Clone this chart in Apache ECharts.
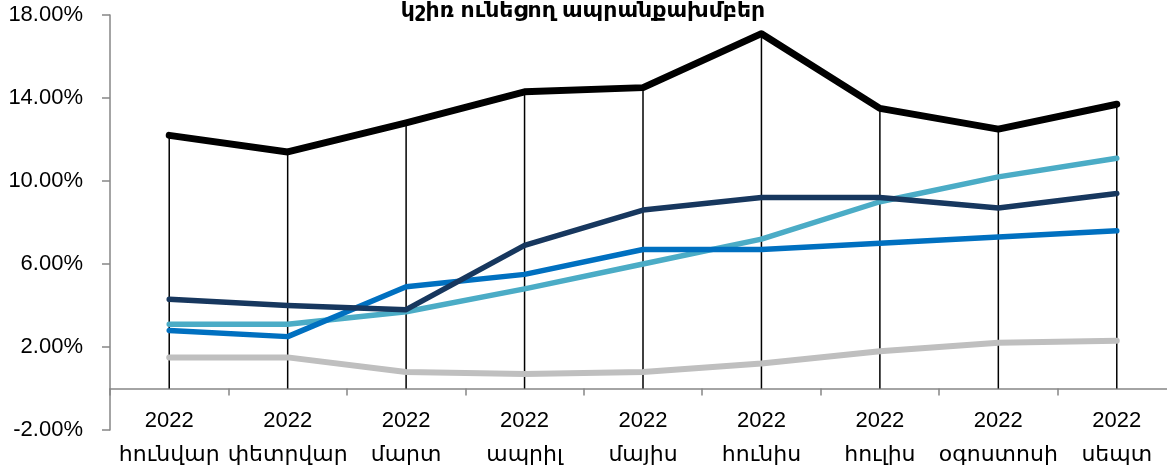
<!DOCTYPE html>
<html>
<head>
<meta charset="utf-8">
<script src="https://cdn.jsdelivr.net/npm/echarts@6/dist/echarts.min.js"></script>
<style>
  html, body { margin: 0; padding: 0; background: #fff; }
  #chart { width: 1167px; height: 471px; }
</style>
</head>
<body>
<div id="chart"></div>
<script>
  var titleText = 'կշիռ ունեցող ապրանքախմբեր'
  var months = ['2022\nհունվար', '2022\nփետրվար', '2022\nմարտ', '2022\nապրիլ', '2022\nմայիս', '2022\nհունիս', '2022\nհուլիս', '2022\nօգոստոսի', '2022\nսեպտ']

  var blackVals = [12.2, 11.4, 12.8, 14.3, 14.5, 17.1, 13.5, 12.5, 13.7]
  var navyVals = [4.3, 4.0, 3.8, 6.9, 8.6, 9.2, 9.2, 8.7, 9.4]
  var blueVals = [2.8, 2.5, 4.9, 5.5, 6.7, 6.7, 7.0, 7.3, 7.6]
  var tealVals = [3.1, 3.1, 3.7, 4.8, 6.0, 7.2, 9.0, 10.2, 11.1]
  var grayVals = [1.5, 1.5, 0.8, 0.7, 0.8, 1.2, 1.8, 2.2, 2.3]

  var yMin = -2
  var yMax = 18
  var yStep = 4

  var font = "'Liberation Sans', 'DejaVu Sans', sans-serif"

  function lineSeries(name, data, color, width) {
    return {
      name: name,
      type: 'line',
      data: data,
      symbol: 'none',
      color: color,
      lineStyle: {width: width, color: color, cap: 'round', join: 'round'}
    }
  }

  var chart = echarts.init(document.getElementById('chart'))
  chart.setOption({
    animation: false,
    title: {
      text: titleText,
      left: 578,
      top: -5,
      textAlign: 'center',
      textStyle: {fontFamily: font, fontSize: 22, fontWeight: 'bold', color: '#000'}
    },
    grid: {left: 110, right: -9, top: 15, bottom: 41, outerBoundsMode: 'none', containLabel: false},
    xAxis: {
      type: 'category',
      data: months,
      boundaryGap: true,
      axisLine: {onZero: true, lineStyle: {color: '#868686', width: 1.5}},
      axisTick: {show: true, length: 7, lineStyle: {color: '#868686', width: 1.5}},
      axisLabel: {
        margin: -26,
        fontFamily: font,
        fontSize: 22,
        lineHeight: 34,
        color: '#000',
        interval: 0
      },
      splitLine: {show: false}
    },
    yAxis: {
      type: 'value',
      min: yMin,
      max: yMax,
      interval: yStep,
      axisLine: {show: true, lineStyle: {color: '#868686', width: 1.5}},
      axisTick: {show: true, length: 8, lineStyle: {color: '#868686', width: 1.5}},
      axisLabel: {
        margin: 27,
        fontFamily: font,
        fontSize: 22,
        color: '#000',
        formatter: function (v) { return v.toFixed(2) + '%' }
      },
      splitLine: {show: false}
    },
    series: [
      {
        name: 'drop',
        type: 'bar',
        data: blackVals,
        barWidth: 1.5,
        itemStyle: {color: '#000'},
        z: 1
      },
      lineSeries('gray', grayVals, '#BFBFBF', 6),
      lineSeries('teal', tealVals, '#4BACC6', 5.5),
      lineSeries('blue', blueVals, '#0070C0', 5.5),
      lineSeries('navy', navyVals, '#17375E', 5.5),
      lineSeries('black', blackVals, '#000000', 7)
    ]
  })
</script>
</body>
</html>
